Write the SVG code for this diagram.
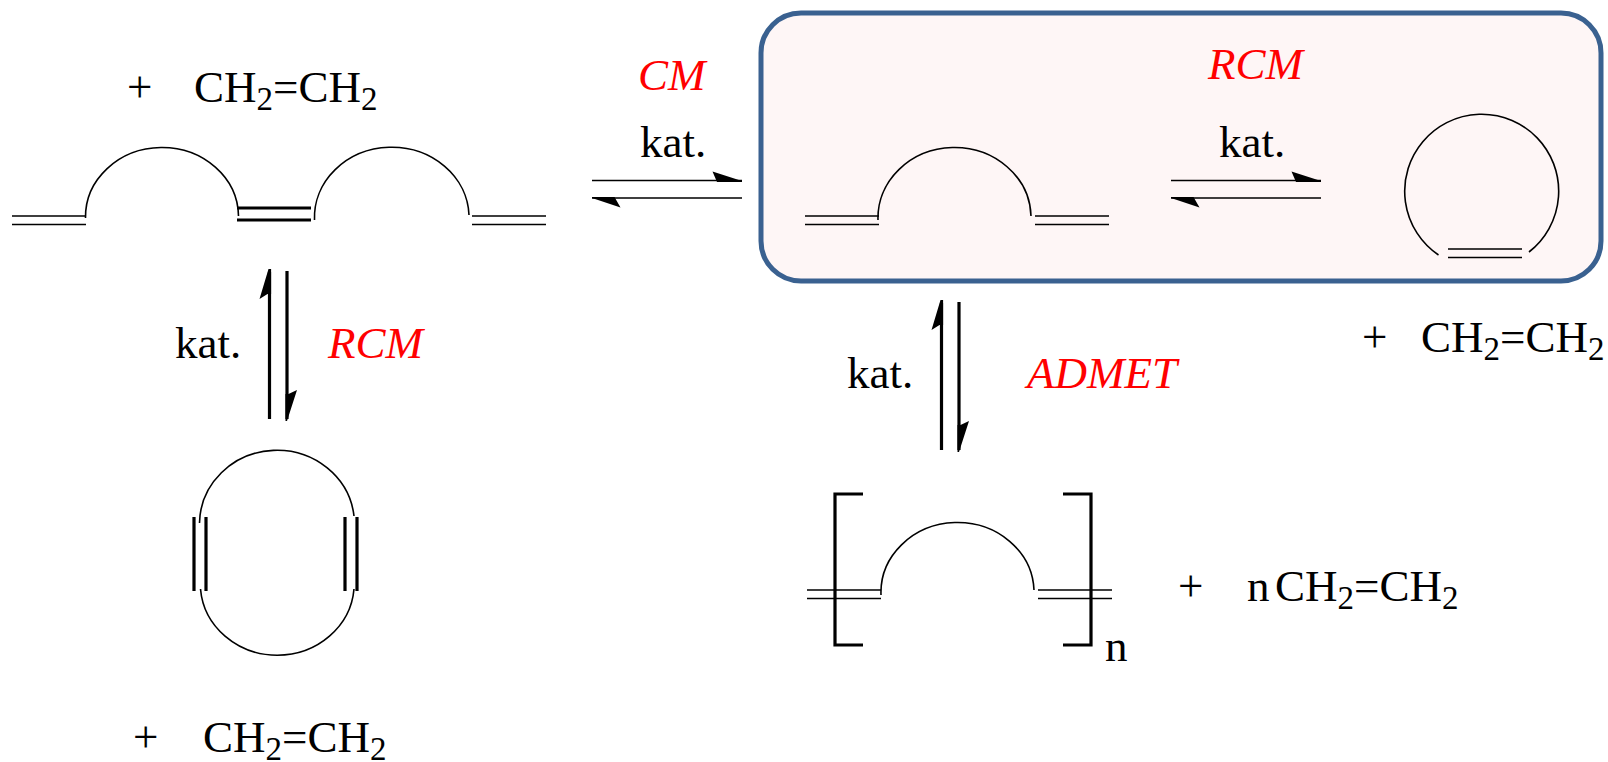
<svg xmlns="http://www.w3.org/2000/svg" width="1608" height="762" viewBox="0 0 1608 762">
<style>
text{font-family:"Liberation Serif","Times New Roman",serif;font-size:45px;fill:#000}
.r{fill:#f00;font-style:italic}
.s{font-size:33px}
.l{fill:none;stroke:#000;stroke-width:1.700}
.a{fill:none;stroke:#000;stroke-width:1.600}
.t{fill:none;stroke:#000;stroke-width:3.200}
.h{fill:#000;stroke:none}
</style>
<defs>
<g id="dbl"><path class="l" d="M0 0H74M0 8.500H74"/></g>
<g id="eq-h"><path class="l" d="M0 0H150M0 17.500H150"/><path class="h" d="M120.500 -9L150 0.500V1.500L125 1.500ZM0 16.500V17.500L28.500 27L22.500 16.500Z"/></g>
<g id="eq-v"><path class="t" d="M0 150V3M17.500 2V150"/><path class="h" d="M-1 0L-10 30L-2 25L1.600 25L1.600 0ZM16 152L17.500 152L27.500 121L19 125L16 125Z"/></g>
</defs>
<g id="box"><rect x="761" y="13" width="840" height="268" rx="40" ry="40" fill="#fef6f6" stroke="#3a6190" stroke-width="5"/></g>
<g id="connectors">
<use href="#eq-h" x="592" y="180.500"/>
<use href="#eq-h" x="1171" y="180.500"/>
<use href="#eq-v" x="269.500" y="269"/>
<use href="#eq-v" x="941.500" y="300"/>
</g>
<g id="diene-chain">
<use href="#dbl" x="12" y="216"/>
<path class="a" d="M85.500 218A76.500 69.500 0 0 1 238.500 216"/>
<path class="t" d="M237 208H311M237 220H311"/>
<path class="a" d="M314.500 220A77 70 0 0 1 469 215"/>
<use href="#dbl" x="472" y="216"/>
</g>
<g id="diene"><use href="#dbl" x="805" y="216"/><path class="a" d="M878 220A76.500 70.500 0 0 1 1031 216"/><use href="#dbl" x="1035" y="216"/></g>
<g id="ring-product"><path class="a" d="M1438.500 255A77 77 0 1 1 1529 252"/><use href="#dbl" x="1448" y="249"/></g>
<g id="double-ring">
<path class="a" d="M199.500 523A77.500 74 0 0 1 354 516M200.500 589A77 72 0 0 0 354 589"/>
<path class="t" d="M194 517V591M206 517V591M345 517V591M357 517V591"/>
</g>
<g id="polymer">
<path class="a" d="M881 595A76.500 70 0 0 1 1034 590"/>
<use href="#dbl" x="807" y="590"/><use href="#dbl" x="1038" y="590"/>
<path class="t" d="M863 494H835V645H863M1063 494H1091V645H1063"/>
</g>
<g id="labels">
<text x="127" y="102">+</text>
<text x="194" y="102">CH<tspan class="s" dy="8">2</tspan><tspan dy="-8">=CH</tspan><tspan class="s" dy="8">2</tspan></text>
<text class="r" x="638" y="90">CM</text>
<text x="640" y="157">kat.</text>
<text class="r" x="1208" y="79">RCM</text>
<text x="1219" y="157">kat.</text>
<text x="175" y="358">kat.</text>
<text class="r" x="328" y="358">RCM</text>
<text x="847" y="388">kat.</text>
<text class="r" x="1027" y="388">ADMET</text>
<text x="1362" y="352">+</text>
<text x="1421" y="352">CH<tspan class="s" dy="8">2</tspan><tspan dy="-8">=CH</tspan><tspan class="s" dy="8">2</tspan></text>
<text x="1105" y="661">n</text>
<text x="1178" y="601">+</text>
<text x="1247" y="601">n</text>
<text x="1275" y="601">CH<tspan class="s" dy="8">2</tspan><tspan dy="-8">=CH</tspan><tspan class="s" dy="8">2</tspan></text>
<text x="133" y="752">+</text>
<text x="203" y="752">CH<tspan class="s" dy="8">2</tspan><tspan dy="-8">=CH</tspan><tspan class="s" dy="8">2</tspan></text>
</g>
</svg>
